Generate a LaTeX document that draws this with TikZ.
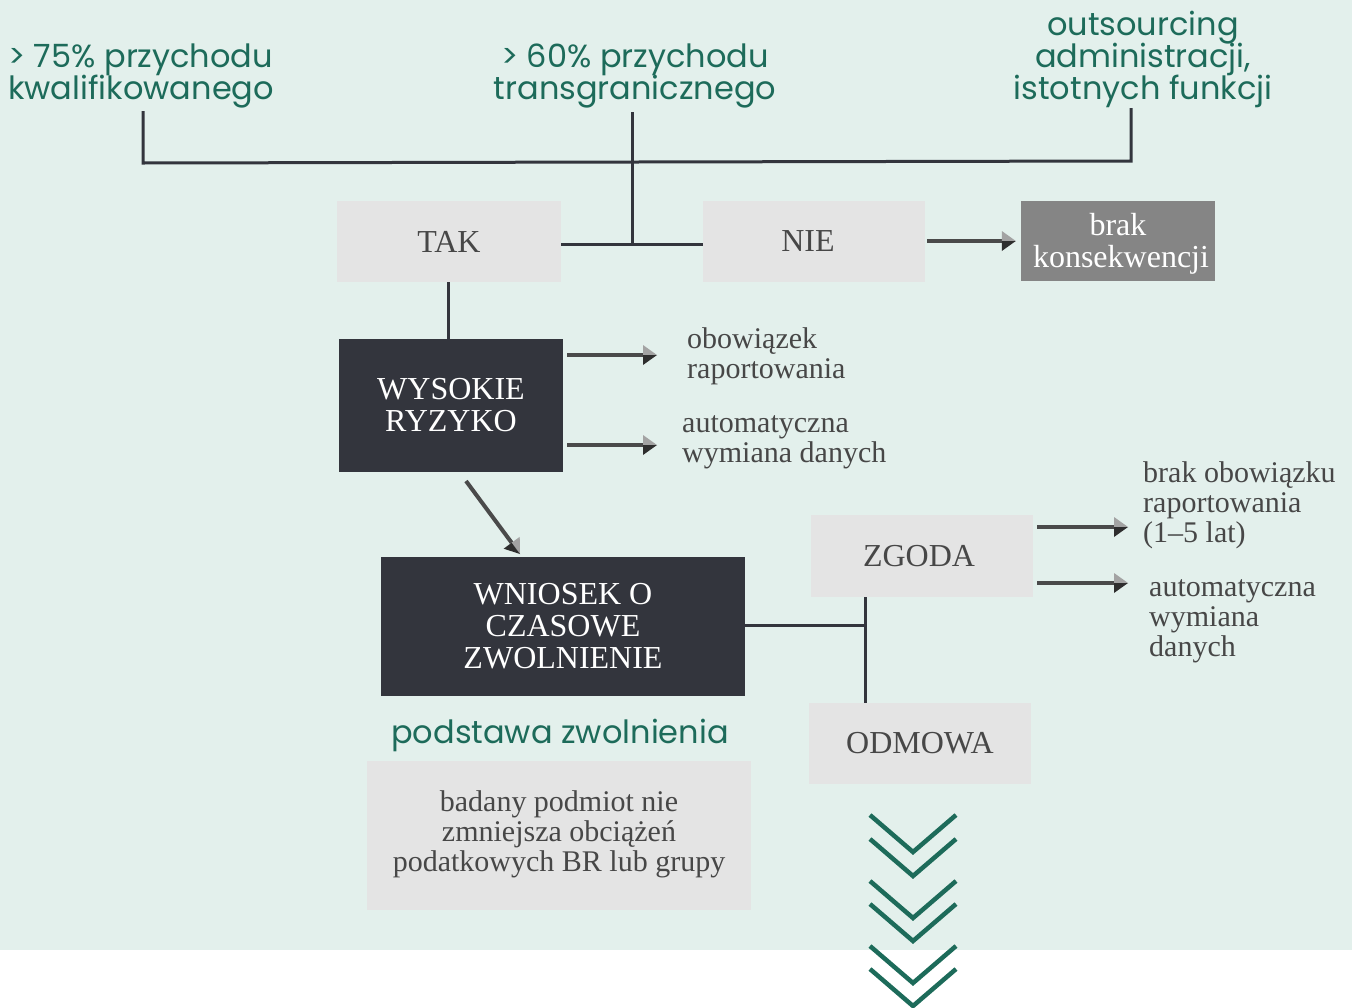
\documentclass[tikz,border=0pt]{standalone}
\usepackage{fontspec}
\setmainfont{Liberation Serif}
\newfontfamily\grfont{Poppins}
\usetikzlibrary{calc}
\definecolor{mint}{HTML}{E3F0EC}
\definecolor{darkb}{HTML}{33353D}
\definecolor{lightbox}{HTML}{E4E4E4}
\definecolor{midbox}{HTML}{858585}
\definecolor{green1}{HTML}{1D6B5A}
\definecolor{txt}{HTML}{474747}
\definecolor{ashaft}{HTML}{4A4A4A}
\definecolor{alight}{HTML}{A3A3A3}
\definecolor{adark}{HTML}{2E2E2E}
\newcommand{\tstrut}{\rule{0pt}{30pt}}
\newcommand{\grset}{\grfont\fontsize{32}{32}\selectfont\lineskiplimit -100pt\relax}
\tikzset{
 lbox/.style={fill=lightbox, inner sep=0, align=center, text=txt, font=\fontsize{32}{32}\selectfont},
 dbox/.style={fill=darkb, inner sep=0, align=center, text=white, font=\fontsize{32}{32}\selectfont},
 gbox/.style={fill=midbox, inner sep=0, align=center, text=white, font=\fontsize{32}{32}\selectfont},
 gtext/.style={inner sep=0, text=green1, font=\grset},
 stext/.style={inner sep=0, text=txt, font=\fontsize{30}{30}\selectfont, align=left, anchor=west},
 conn/.style={draw=darkb, line width=3pt},
 chev/.style={draw=green1, line width=4.5pt},
}
\newcommand{\garrow}[2]{%
 \coordinate (ga-b) at ($(#2)!14pt!(#1)$);
 \draw[line width=4pt, draw=ashaft] (#1) -- (ga-b);
 \fill[alight] (#2) -- (ga-b) -- ($(ga-b)!10pt!90:(#2)$) -- cycle;
 \fill[adark] (#2) -- (ga-b) -- ($(ga-b)!10pt!-90:(#2)$) -- cycle;
}
\begin{document}
\begin{tikzpicture}[x=1pt,y=-1pt]
\useasboundingbox (0,0) rectangle (1352,1007);
\fill[mint] (0,0) rectangle (1352,950);

% top green texts
\node[gtext, anchor=west, align=left] (t1) at (8,76) {\strut> 75\% przychodu\\\strut kwalifikowanego};
\node[gtext, align=center] (t2) at (635,76) {\strut> 60\% przychodu\\\strut transgranicznego};
\node[gtext, align=center] (t3) at (1143,60) {\strut outsourcing\\\strut administracji,\\\strut istotnych funkcji};

% boxes
\node[lbox, minimum width=224, minimum height=81] (tak) at (449,241.5) {TAK};
\node[lbox, minimum width=222, minimum height=81] (nie) at (814,241.5) {\hspace*{-12pt}NIE};
\node[gbox, minimum width=194, minimum height=80] (brak) at (1118,241) {\tstrut brak\\\strut \hspace*{6pt}konsekwencji};
\node[dbox, minimum width=224, minimum height=133] (wys) at (451,405.5) {\tstrut WYSOKIE\\\strut RYZYKO};
\node[dbox, minimum width=364, minimum height=139] (wni) at (563,626.5) {\tstrut WNIOSEK O\\\strut CZASOWE\\\strut ZWOLNIENIE};
\node[lbox, minimum width=222, minimum height=82] (zgoda) at (922,556) {\hspace*{-6pt}ZGODA};
\node[lbox, minimum width=222, minimum height=81] (odm) at (920,743.5) {ODMOWA};
\node[lbox, minimum width=384, minimum height=149, font=\fontsize{30}{30}\selectfont] (bad) at (559,835.5) {\strut badany podmiot nie\\\strut zmniejsza obciążeń\\\strut podatkowych BR lub grupy};
\node[gtext] (pz) at (560,736) {\strut podstawa zwolnienia};

% side texts
\node[stext] (obow) at (687,357) {\strut obowiązek\\\strut raportowania};
\node[stext] (auto1) at (682,441) {\strut automatyczna\\\strut wymiana danych};
\node[stext] (brob) at (1143,506) {\strut brak obowiązku\\\strut raportowania\\\strut (1–5 lat)};
\node[stext] (auto2) at (1149,620) {\strut automatyczna\\\strut wymiana\\\strut danych};

% top connectors
\coordinate (a1) at (143,111);
\coordinate (h1) at (143,163);
\coordinate (a3) at (1131,108);
\coordinate (h3) at (1131,161);
\coordinate (a2) at (632,112);
\coordinate (j2) at (632,244);
\draw[conn] (a1) -- (h1) -- (h3) -- (a3);
\draw[conn] (a2) -- (j2);
\draw[conn] (tak.east |- j2) -- (nie.west |- j2);
\draw[conn] (tak.south -| 448,0) -- (wys.north -| 448,0);

% wniosek connectors
\coordinate (jz) at (865,625);
\draw[conn] (wni.east |- jz) -- (jz);
\draw[conn] (zgoda.south -| jz) -- (odm.north -| jz);

% arrows
\coordinate (s1) at ($(nie.east)+(2,-0.5)$);
\coordinate (e1) at ($(brak.west)+(-5,0)$);
\garrow{s1}{e1}
\coordinate (s2) at (567,355);
\coordinate (e2) at (657,355);
\garrow{s2}{e2}
\coordinate (s3) at (567,445);
\coordinate (e3) at (657,445);
\garrow{s3}{e3}
\coordinate (s4) at (466,481);
\coordinate (e4) at (520,554);
\garrow{s4}{e4}
\coordinate (s5) at (1037,527);
\coordinate (e5) at (1128,527);
\garrow{s5}{e5}
\coordinate (s6) at (1037,583);
\coordinate (e6) at (1128,583);
\garrow{s6}{e6}

% chevrons
\foreach \t in {815,839,881,904,946,969}{
 \draw[chev] (870,\t) -- (913,\t+37) -- (956,\t);
}
\end{tikzpicture}
\end{document}
